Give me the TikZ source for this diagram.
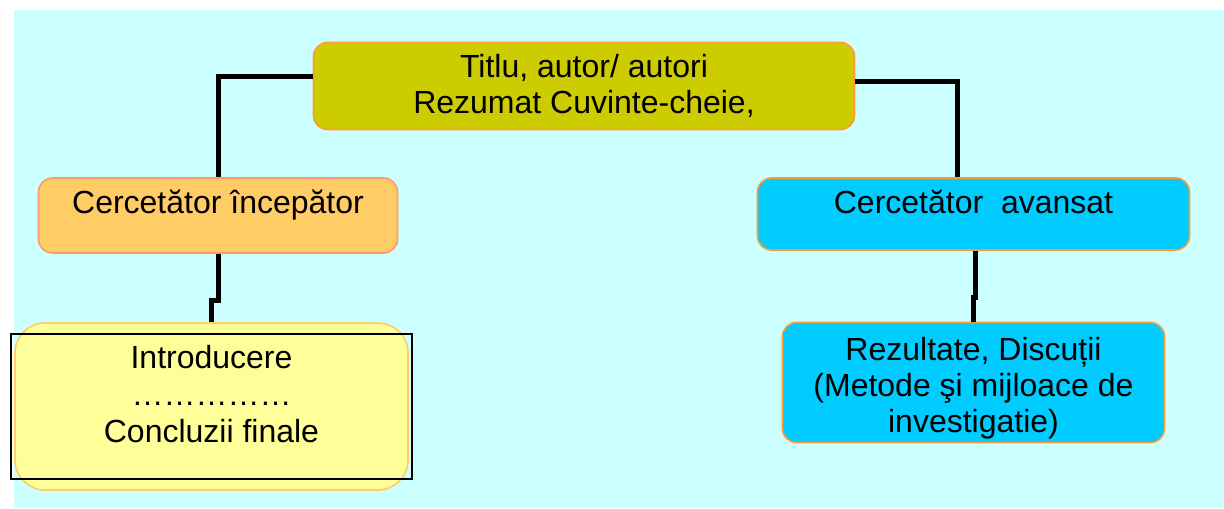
\documentclass[tikz,border=0pt]{standalone}
\usepackage{fontspec}
\setmainfont{Liberation Sans}
\usepackage{tikz}
\usetikzlibrary{positioning,calc}
\usepackage{xcolor}
\definecolor{pgbg}{RGB}{204,255,255}
\definecolor{pgolive}{RGB}{204,204,0}
\definecolor{pgorange}{RGB}{255,153,51}
\definecolor{pgpeach}{RGB}{255,204,102}
\definecolor{pgsalmon}{RGB}{255,153,102}
\definecolor{pgcyan}{RGB}{0,204,255}
\definecolor{pgyellow}{RGB}{255,255,153}
\definecolor{pglightorange}{RGB}{255,204,102}
\tikzstyle{link} = [line width=2.5pt, color=black]
\tikzstyle{levelbox} = [rectangle, rounded corners=7pt, inner sep=0pt, text centered, line width=0.8pt, font=\fontsize{16}{18}\selectfont]
\tikzstyle{topbox} = [levelbox, align=center, draw=pgorange, fill=pgolive, minimum width=270.5pt, minimum height=43.5pt]
\tikzstyle{startbox} = [levelbox, draw=pgsalmon, fill=pgpeach, minimum width=179.5pt, text height=17.5pt, text depth=20pt]
\tikzstyle{advbox} = [levelbox, draw=pgorange, fill=pgcyan, minimum width=216pt, text height=17.5pt, text depth=18.5pt]
\tikzstyle{partbox} = [levelbox, align=center, draw=pgorange, fill=pgcyan, minimum width=191pt, minimum height=60pt]
\tikzstyle{finalbox} = [levelbox, rounded corners=15pt, draw=pglightorange, fill=pgyellow, minimum width=196.5pt, minimum height=83.5pt]

\begin{document}
\begin{tikzpicture}[x=0.5pt, y=-0.5pt]
\useasboundingbox (0,0) rectangle (1224,508);
\fill[pgbg] (14,10) rectangle (1224,508);

% Top: paper head
\node[topbox] (head) at (584,86) {Titlu, autor/ autori\\Rezumat Cuvinte-cheie,};

% Left branch: beginner
\node[startbox] (begin) at (218,215.5) {Cercetător începător};
\node[finalbox] (fin) at (211.5,406.5) {};
\node[draw, line width=1pt, minimum width=200.5pt, minimum height=72.5pt, inner sep=0pt] (frame) at (211.5,406.5) {};
\node[anchor=north, align=center, inner sep=0pt, font=\fontsize{16}{18.5}\selectfont] (fintext) at ($(fin.north)+(0,23)$) {Introducere\\……………\\Concluzii finale};

% Right branch: advanced
\node[advbox] (adv) at (973.5,214) {Cercetător~~avansat};
\node[partbox] (res) at (973.5,382.5) {\rule{0pt}{17pt}Rezultate, Discuții\\(Metode şi mijloace de\\investigatie)};

% Links
\draw[link] ($(head.west)+(0,-9.5)$) -| (begin.north);
\draw[link] ($(head.east)+(0,-4)$) -| ($(adv.north)+(-16.5,0)$);
\draw[link] (begin.south) -- ++(0,47) -| (fin.north);
\draw[link] ($(adv.south)+(1.5,0)$) -- ++(0,47) -| (res.north);
\end{tikzpicture}
\end{document}
